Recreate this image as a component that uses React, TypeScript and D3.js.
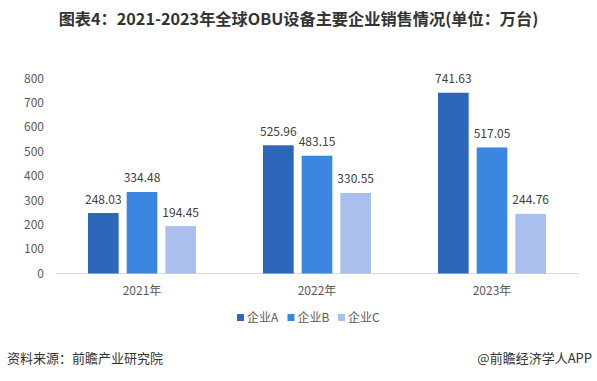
import React from "react";
import * as d3 from "d3";

const categories = ["2021年", "2022年", "2023年"];
const seriesNames = ["企业A", "企业B", "企业C"];
const valuesA = [248.03, 525.96, 741.63];
const valuesB = [334.48, 483.15, 517.05];
const valuesC = [194.45, 330.55, 244.76];
const yTicks = [0, 100, 200, 300, 400, 500, 600, 700, 800];
const colors = ["#2c67b9", "#3b86e0", "#a9c0ee"];

export default function App() {
  const W = 597, H = 381;
  const series = [valuesA, valuesB, valuesC];
  const x = d3.scaleBand<string>().domain(categories).range([54.5, 579.5]);
  const y = d3.scaleLinear().domain([0, 800]).range([273.5, 78.5]);
  const inner = d3.scaleBand<string>().domain(seriesNames).range([-54, 54]).paddingInner(0.207);
  const font = "'Microsoft YaHei', 'Noto Sans CJK SC', sans-serif";
  return (
    <svg width={W} height={H} style={{ position: "absolute", left: 0, top: 0, background: "#fff" }} fontFamily={font}>
      <text x={W / 2} y={25} textAnchor="middle" fontSize={16.2} fontWeight="bold" fill="#333">
        图表4：2021-2023年全球OBU设备主要企业销售情况(单位：万台)
      </text>
      {yTicks.map((t) => (
        <text key={t} x={44} y={y(t)} dy="0.35em" textAnchor="end" fontSize={12} fill="#595959">
          {t}
        </text>
      ))}
      <line x1={56} x2={579} y1={y(0)} y2={y(0)} stroke="#d9d9d9" strokeWidth={1} />
      {categories.map((c, ci) => (
        <g key={c} transform={`translate(${(x(c) as number) + x.bandwidth() / 2},0)`}>
          {series.map((vals, si) => {
            const bx = inner(seriesNames[si]) as number;
            const bw = inner.bandwidth();
            return (
              <g key={si}>
                <rect x={bx} y={y(vals[ci])} width={bw} height={y(0) - y(vals[ci])} fill={colors[si]} />
                <text x={bx + bw / 2} y={y(vals[ci]) - 9.5} textAnchor="middle" fontSize={12} fill="#404040">
                  {vals[ci].toFixed(2)}
                </text>
              </g>
            );
          })}
          <text x={0} y={295} textAnchor="middle" fontSize={12} fill="#595959">{c}</text>
        </g>
      ))}
      {seriesNames.map((s, i) => {
        const lx = 237 + i * 50.5;
        return (
          <g key={s}>
            <rect x={lx} y={314} width={7} height={7} fill={colors[i]} />
            <text x={lx + 10} y={321.5} fontSize={12} fill="#595959">{s}</text>
          </g>
        );
      })}
      <text x={7} y={363} fontSize={13} fill="#333">资料来源：前瞻产业研究院</text>
      <text x={592} y={363} textAnchor="end" fontSize={13} fill="#333">@前瞻经济学人APP</text>
    </svg>
  );
}
